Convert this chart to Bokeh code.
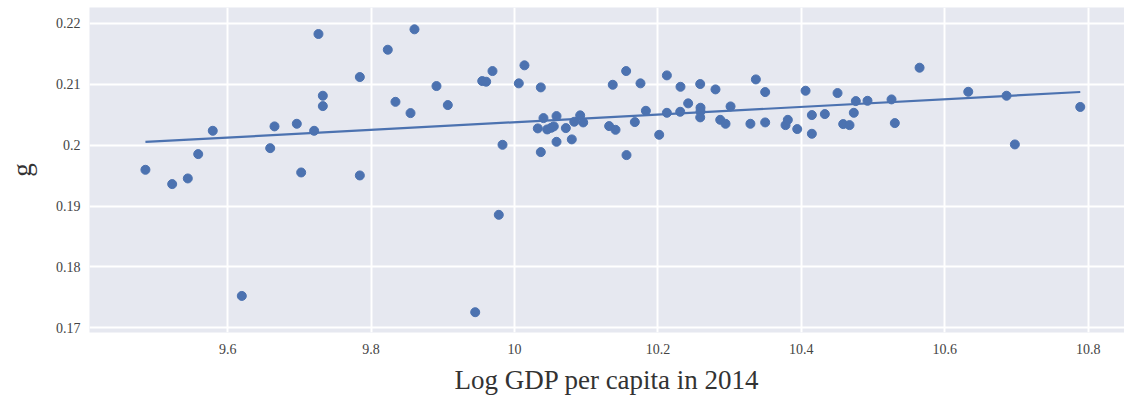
import numpy as np
from bokeh.plotting import figure
from bokeh.models import FixedTicker, Range1d
from bokeh.embed import file_html
from bokeh.resources import INLINE

# Data
log_gdp = [9.4853, 9.5226, 9.5444, 9.5589, 9.5792, 9.6197, 9.6593, 9.6653, 9.6964, 9.7025,
           9.7206, 9.7266, 9.7327, 9.7327, 9.7843, 9.7843, 9.8233, 9.834, 9.855, 9.8605,
           9.8912, 9.907, 9.9452, 9.955, 9.9605, 9.9693, 9.9781, 9.9833, 10.006, 10.0139,
           10.0325, 10.0367, 10.0367, 10.0404, 10.0456, 10.0512, 10.0548, 10.0586, 10.0586, 10.0716,
           10.0799, 10.0833, 10.0916, 10.0958, 10.137, 10.132, 10.1409, 10.1557, 10.1562, 10.1678,
           10.1757, 10.1832, 10.2018, 10.2125, 10.2125, 10.2315, 10.2311, 10.2422, 10.259, 10.2594,
           10.2594, 10.259, 10.2803, 10.2869, 10.2943, 10.3013, 10.329, 10.3366, 10.3496, 10.3496,
           10.378, 10.3812, 10.3943, 10.4059, 10.4147, 10.4147, 10.4328, 10.4505, 10.4584, 10.4672,
           10.4732, 10.476, 10.4923, 10.5258, 10.5304, 10.5649, 10.6328, 10.6862, 10.6978, 10.789]
g_vals = [0.19595, 0.1936, 0.19453, 0.19852, 0.20235, 0.17525, 0.1995, 0.20307, 0.2035, 0.19551,
          0.20235, 0.21823, 0.2081, 0.2064, 0.21117, 0.19502, 0.21565, 0.2071, 0.20525, 0.2190,
          0.20969, 0.20657, 0.17258, 0.21051, 0.2104, 0.21215, 0.18856, 0.20005, 0.21013, 0.21309,
          0.20274, 0.20947, 0.19885, 0.20443, 0.20257, 0.20284, 0.20307, 0.20476, 0.20054, 0.20279,
          0.20094, 0.20383, 0.20488, 0.20372, 0.2099, 0.20312, 0.20251, 0.21215, 0.19836, 0.20378,
          0.21013, 0.20563, 0.20169, 0.21144, 0.2053, 0.20957, 0.20547, 0.20685, 0.21002, 0.20613,
          0.20553, 0.20455, 0.20914, 0.20415, 0.2035, 0.20635, 0.2035, 0.21078, 0.2087, 0.20372,
          0.20328, 0.20415, 0.20263, 0.20892, 0.20493, 0.20186, 0.20509, 0.20854, 0.20345, 0.20328,
          0.2053, 0.20722, 0.20727, 0.2075, 0.20361, 0.2127, 0.20875, 0.2081, 0.20011, 0.20626]

x_ticks = [9.6, 9.8, 10.0, 10.2, 10.4, 10.6, 10.8]
x_tick_labels = ["9.6", "9.8", "10", "10.2", "10.4", "10.6", "10.8"]
y_ticks = [0.17, 0.18, 0.19, 0.20, 0.21, 0.22]
y_tick_labels = ["0.17", "0.18", "0.19", "0.2", "0.21", "0.22"]

# OLS fit line
slope, intercept = np.polyfit(log_gdp, g_vals, 1)
fit_x = [min(log_gdp), max(log_gdp)]
fit_y = [intercept + slope * v for v in fit_x]

BLUE = "#4C72B0"
SERIF = "Liberation Serif"

p = figure(frame_width=1035, frame_height=325, output_backend="svg", toolbar_location=None,
           x_range=Range1d(9.4073, 10.8507), y_range=Range1d(0.16925, 0.22258),
           min_border_left=89, min_border_right=0, min_border_top=7, min_border_bottom=62)
p.background_fill_color = "#E6E8F0"
p.border_fill_color = "white"
p.outline_line_color = None

p.line(fit_x, fit_y, line_color=BLUE, line_width=2.2)
p.scatter(log_gdp, g_vals, size=9, fill_color=BLUE, line_color=BLUE)

for ax in (p.xaxis[0], p.yaxis[0]):
    ax.axis_line_color = None
    ax.major_tick_line_color = None
    ax.minor_tick_line_color = None
    ax.major_label_text_font = SERIF
    ax.major_label_text_font_size = "14px"
    ax.major_label_text_color = "#444444"
    ax.axis_label_text_font = SERIF
    ax.axis_label_text_font_style = "normal"
    ax.axis_label_text_color = "#333333"
    ax.axis_label_text_font_size = "27px"

p.xaxis.ticker = FixedTicker(ticks=x_ticks)
p.xaxis.major_label_overrides = {t: l for t, l in zip(x_ticks, x_tick_labels)}
p.yaxis.ticker = FixedTicker(ticks=y_ticks)
p.yaxis.major_label_overrides = {t: l for t, l in zip(y_ticks, y_tick_labels)}
p.xaxis.major_label_standoff = 5
p.yaxis.major_label_standoff = 3
p.xaxis.axis_label = "Log GDP per capita in 2014"
p.yaxis.axis_label = "g"
p.xaxis.axis_label_standoff = 8
p.yaxis.axis_label_standoff = 16

p.xgrid.grid_line_color = "white"
p.ygrid.grid_line_color = "white"
p.xgrid.grid_line_width = 2
p.ygrid.grid_line_width = 2

open("out.html", "w").write(file_html(p, INLINE))
